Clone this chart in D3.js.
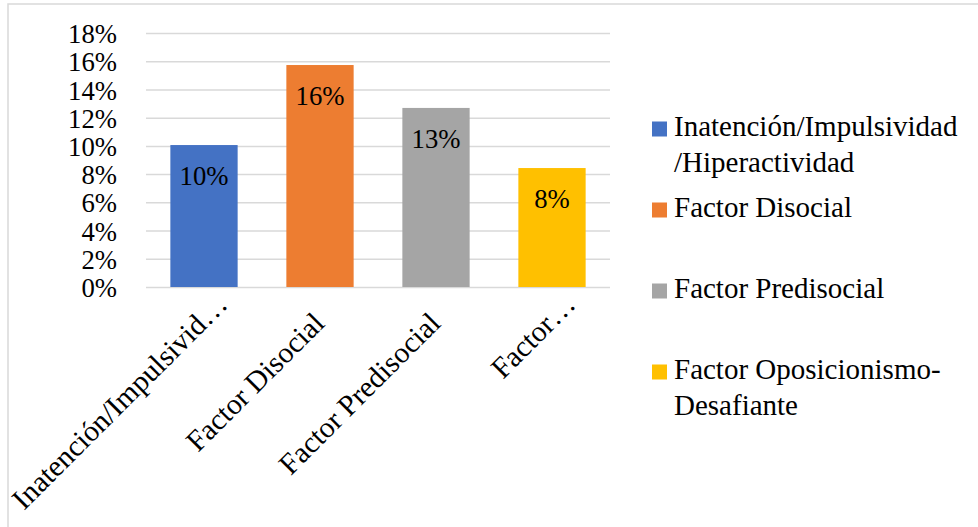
<!DOCTYPE html>
<html>
<head>
<meta charset="utf-8">
<script src="https://cdn.jsdelivr.net/npm/d3@7"></script>
<style>
  html, body { margin: 0; padding: 0; background: #fff; }
  svg { display: block; }
  svg text { font-family: "Liberation Serif", "Times New Roman", serif !important; fill: #000; }
</style>
</head>
<body>
<svg id="chart" width="978" height="527"></svg>
<script>
// Categories, their values and the labels shown on the axis
const categories = [
  "Inatención/Impulsividad/Hiperactividad",
  "Factor Disocial",
  "Factor Predisocial",
  "Factor Oposicionismo-Desafiante"
];
const values = [0.1006, 0.1573, 0.1269, 0.0843];
const tickLabels = ["Inatención/Impulsivid…", "Factor Disocial", "Factor Predisocial", "Factor…"];
const legendLines = [
  ["Inatención/Impulsividad", "/Hiperactividad"],
  ["Factor Disocial"],
  ["Factor Predisocial"],
  ["Factor Oposicionismo-", "Desafiante"]
];
const colors = ["#4472C4", "#ED7D31", "#A5A5A5", "#FFC000"];
const yTicks = [0, 0.02, 0.04, 0.06, 0.08, 0.10, 0.12, 0.14, 0.16, 0.18];

const svg = d3.select("#chart");
const pct = d3.format(".0%");

// Outer frame
svg.append("rect")
  .attr("x", 8).attr("y", 4)
  .attr("width", 990).attr("height", 540)
  .attr("fill", "none").attr("stroke", "#d9d9d9").attr("stroke-width", 1.5);

const plot = { left: 146, right: 610, top: 33, bottom: 287 };

const x = d3.scaleBand()
  .domain(categories)
  .range([plot.left, plot.right])
  .paddingInner(0.42)
  .paddingOuter(0.21);

const y = d3.scaleLinear()
  .domain([0, 0.18])
  .range([plot.bottom, plot.top]);

// Y axis with gridlines
const yAxis = svg.append("g")
  .attr("transform", `translate(${plot.left},0)`)
  .call(d3.axisLeft(y)
    .tickValues(yTicks)
    .tickFormat(pct)
    .tickSize(-(plot.right - plot.left))
    .tickPadding(29));
yAxis.attr("font-family", null).attr("font-size", null);
yAxis.select(".domain").remove();
yAxis.selectAll(".tick line").attr("stroke", "#d9d9d9").attr("stroke-width", 1.5);
yAxis.selectAll(".tick text")
  .attr("dy", "0.36em")
  .style("font-size", "26.7px")
  .attr("fill", "#000");

// Bars
svg.append("g").selectAll("rect")
  .data(values)
  .join("rect")
  .attr("x", (d, i) => x(categories[i]))
  .attr("y", d => y(d))
  .attr("width", x.bandwidth())
  .attr("height", d => y(0) - y(d))
  .attr("fill", (d, i) => colors[i]);

// Value labels inside the bars
svg.append("g").selectAll("text")
  .data(values)
  .join("text")
  .attr("x", (d, i) => x(categories[i]) + x.bandwidth() / 2)
  .attr("y", d => y(d) + 40)
  .attr("text-anchor", "middle")
  .style("font-size", "26.7px")
  .text(d => pct(d));

// Rotated category labels
svg.append("g").selectAll("text")
  .data(tickLabels)
  .join("text")
  .attr("transform", (d, i) =>
    `translate(${x(categories[i]) + x.bandwidth() / 2 + 6},325) rotate(-45)`)
  .attr("dx", d => d.endsWith("…") ? 27 : 0)
  .attr("text-anchor", "end")
  .style("font-size", "29.5px")
  .text(d => d);

// Legend
const legend = svg.append("g").selectAll("g")
  .data(legendLines)
  .join("g")
  .attr("transform", (d, i) => `translate(652,${136 + i * 81})`);

legend.append("rect")
  .attr("x", 0).attr("y", -14.5)
  .attr("width", 15).attr("height", 15)
  .attr("fill", (d, i) => colors[i]);

legend.append("text")
  .style("font-size", "29px")
  .selectAll("tspan")
  .data(d => d)
  .join("tspan")
  .attr("x", 22)
  .attr("y", (d, j) => j * 36)
  .text(d => d);
</script>
</body>
</html>
